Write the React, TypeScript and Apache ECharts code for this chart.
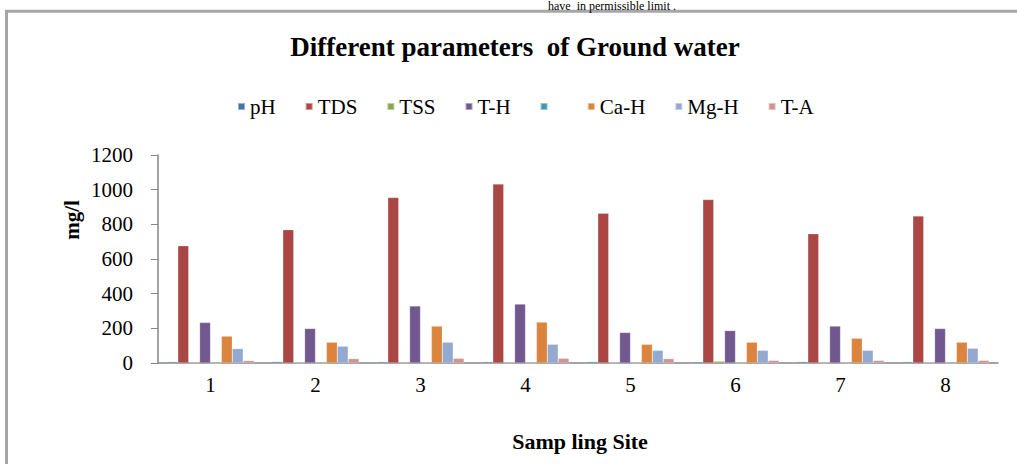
import React, { useEffect, useRef } from 'react';
import * as echarts from 'echarts';

const categories = ['1', '2', '3', '4', '5', '6', '7', '8'];
const seriesNames = ['pH', 'TDS', 'TSS', 'T-H', ' ', 'Ca-H', 'Mg-H', 'T-A'];
const pH = [7.6, 7.8, 7.4, 7.5, 7.7, 7.3, 7.6, 7.5];
const TDS = [676, 769, 955, 1032, 864, 943, 746, 848];
const TSS = [1, 2, 1, 2, 1, 10, 1, 2];
const TH = [234, 199, 329, 340, 176, 187, 213, 199];
const blank = [0, 0, 0, 0, 0, 0, 0, 0];
const CaH = [155, 120, 213, 236, 108, 120, 143, 120];
const MgH = [83, 97, 120, 108, 73, 73, 73, 85];
const TA = [14, 25, 27, 27, 25, 15, 15, 15];
const seriesData = [pH, TDS, TSS, TH, blank, CaH, MgH, TA];
const colors = ['#4572A7', '#AA4643', '#89A54E', '#71588F', '#4198AF', '#DB843D', '#93A9CF', '#D19392'];

const titleText = 'Different parameters  of Ground water';
const xName = 'Samp ling Site';
const yName = 'mg/l';
const topText = 'have  in permissible limit .';

const FONT = '"Liberation Serif", "Times New Roman", serif';

export default function App() {
  const ref = useRef<HTMLDivElement>(null);
  useEffect(() => {
    if (!ref.current) return;
    const chart = echarts.init(ref.current, undefined, { renderer: 'svg' });
    chart.setOption({
      animation: false,
      color: colors,
      textStyle: { fontFamily: FONT },
      grid: { left: 158, right: 19, top: 155, bottom: 101, containLabel: false },
      legend: {
        top: 91,
        left: 232,
        icon: 'rect',
        itemWidth: 7,
        itemHeight: 7,
        itemGap: 29,
        textStyle: { fontFamily: FONT, fontSize: 21, color: '#000' },
        data: seriesNames,
      },
      xAxis: {
        type: 'category',
        data: categories,
        axisLine: { lineStyle: { color: '#868686', width: 1.5 } },
        axisTick: { show: false },
        axisLabel: { color: '#000', fontFamily: FONT, fontSize: 21, margin: 11 },
        splitLine: { show: false },
      },
      yAxis: {
        type: 'value',
        min: 0,
        max: 1200,
        interval: 200,
        axisLine: { show: true, lineStyle: { color: '#868686', width: 1.5 } },
        axisTick: { show: true, length: 7, lineStyle: { color: '#868686' } },
        axisLabel: {
          color: '#000',
          fontFamily: FONT,
          fontSize: 21,
          margin: 25,
          formatter: (v: number) => String(v),
        },
        splitLine: { show: false },
      },
      graphic: [
        {
          type: 'rect',
          shape: { x: 6.5, y: 11.2, width: 1200, height: 800 },
          style: { fill: 'none', stroke: '#A6A6A6', lineWidth: 3 },
          silent: true,
        },
        {
          type: 'text',
          x: 548,
          y: 0,
          style: { text: topText, font: '12px ' + FONT, fill: '#000', verticalAlign: 'top' },
        },
        {
          type: 'text',
          x: 515,
          y: 47,
          style: {
            text: titleText,
            font: 'bold 27px ' + FONT,
            fill: '#000',
            align: 'center',
            verticalAlign: 'middle',
          },
        },
        {
          type: 'text',
          x: 72,
          y: 220,
          rotation: Math.PI / 2,
          style: {
            text: yName,
            font: 'bold 21px ' + FONT,
            fill: '#000',
            align: 'center',
            verticalAlign: 'middle',
          },
        },
        {
          type: 'text',
          x: 580,
          y: 441,
          style: {
            text: xName,
            font: 'bold 22px ' + FONT,
            fill: '#000',
            align: 'center',
            verticalAlign: 'middle',
          },
        },
      ],
      series: seriesNames.map((name, i) => ({
        name,
        type: 'bar',
        data: seriesData[i],
        barGap: '0%',
        barCategoryGap: '17%',
        itemStyle: { color: colors[i], borderColor: 'rgba(255,255,255,0.45)', borderWidth: 0.5 },
      })),
    });
    return () => chart.dispose();
  }, []);
  return (
    <div
      ref={ref}
      style={{ position: 'absolute', left: 0, top: 0, width: 1017, height: 464, background: '#fff' }}
    />
  );
}
